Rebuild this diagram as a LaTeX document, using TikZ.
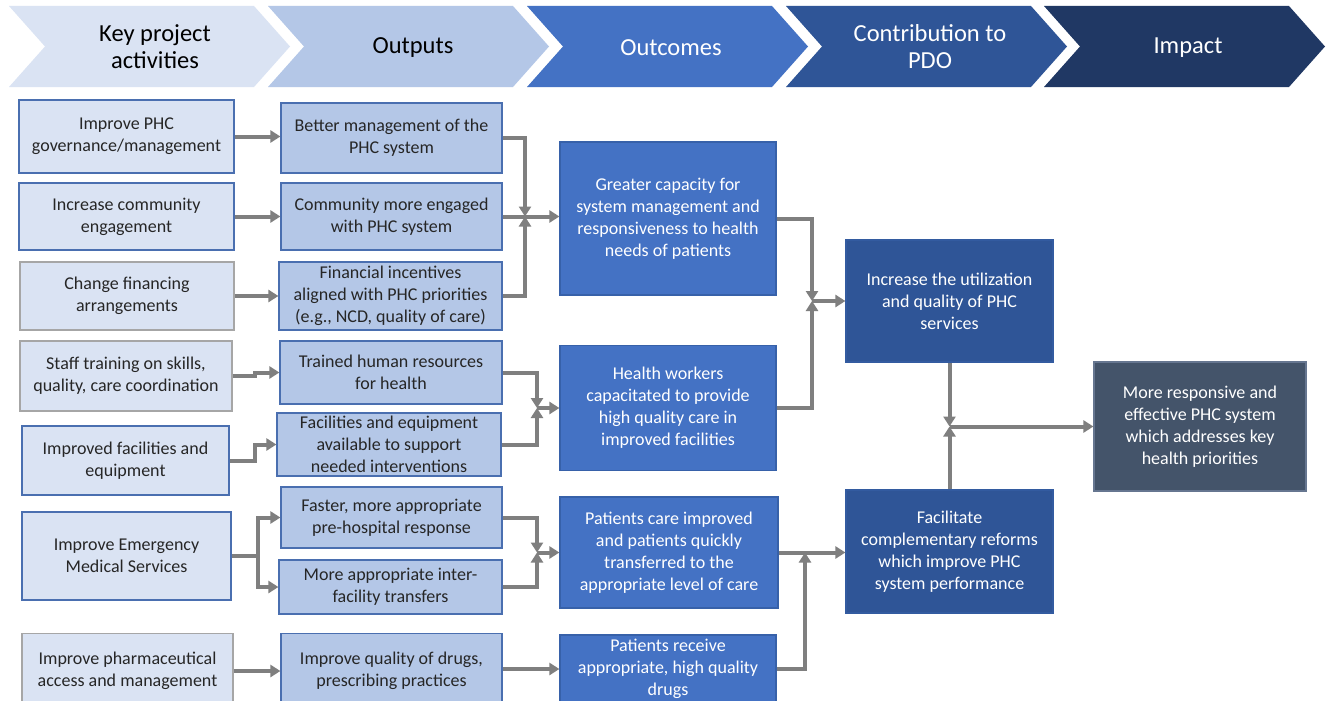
\documentclass[tikz,border=0pt]{standalone}
\usepackage{fontspec}
\setmainfont{Carlito}
\usetikzlibrary{arrows.meta}
\definecolor{chA}{HTML}{DAE3F3}
\definecolor{chB}{HTML}{B4C7E7}
\definecolor{chC}{HTML}{4472C4}
\definecolor{chD}{HTML}{2F5597}
\definecolor{chE}{HTML}{203864}
\definecolor{impc}{HTML}{44546A}
\definecolor{linec}{HTML}{7F7F7F}
\definecolor{edgeb}{HTML}{4A6FB0}
\definecolor{edgeg}{HTML}{A6A6A6}
\definecolor{txt}{HTML}{262626}
\tikzset{
  box/.style={rectangle, align=center, inner sep=0pt, font=\fontsize{18}{22}\selectfont, line width=1.2pt},
  actb/.style={box, fill=chA, draw=edgeb, text=txt},
  actg/.style={box, fill=chA, draw=edgeg, text=txt},
  outb/.style={box, fill=chB, draw=edgeb, text=txt},
  outc/.style={box, fill=chC, draw=chD!60!chC, text=white},
  pdo/.style={box, fill=chD, draw=chD!80!chC, text=white},
  imp/.style={box, fill=impc, draw=impc!70!chB, text=white},
  head/.style={align=center, font=\fontsize{24.5}{27}\selectfont},
  arr/.style={draw=linec, line width=4pt, -{Triangle[length=10pt,width=12pt]}},
  ln/.style={draw=linec, line width=4pt}
}
\begin{document}
\begin{tikzpicture}[x=1pt,y=-1pt]
\useasboundingbox[fill=white] (0,0) rectangle (1328,701);
% header chevrons
\foreach \xo/\col in {9/chA,268/chB,527/chC,786/chD,1044/chE}{
  \fill[\col] (\xo,6) -- (\xo+245,6) -- (\xo+281,46.5) -- (\xo+245,87) -- (\xo,87) -- (\xo+36,46.5) -- cycle;
}
\node[head, text=black] (h1) at (155,46.5) {Key project\\activities};
\node[head, text=black] (h2) at (413,48) {Outputs};
\node[head, text=white] (h3) at (671,48) {Outcomes};
\node[head, text=white] (h4) at (930,46.5) {Contribution to\\PDO};
\node[head, text=white] (h5) at (1188,48) {Impact};

% activities
\node[actb, minimum width=215, minimum height=73] (A1) at (126.5,136.5) {Improve PHC\\governance/management};
\node[actb, minimum width=215, minimum height=67] (A2) at (126.5,216.5) {Increase community\\engagement};
\node[actg, minimum width=214, minimum height=68] (A3) at (127,296) {Change financing\\arrangements};
\node[actg, minimum width=212, minimum height=70] (A4) at (126,376) {Staff training on skills,\\quality, care coordination};
\node[actb, minimum width=207, minimum height=69] (A5) at (125.5,460.5) {Improved facilities and\\equipment};
\node[actb, minimum width=209, minimum height=88] (A6) at (126.5,556) {Improve Emergency\\Medical Services};
\node[actg, minimum width=211, minimum height=75] (A7) at (127.5,671) {Improve pharmaceutical\\access and management};

% outputs
\node[outb, minimum width=221, minimum height=70] (O1) at (391.5,138) {Better management of the\\PHC system};
\node[outb, minimum width=221, minimum height=67] (O2) at (391.5,216.5) {Community more engaged\\with PHC system};
\node[outb, minimum width=223, minimum height=68] (O3) at (390.5,296) {Financial incentives\\aligned with PHC priorities\\(e.g., NCD, quality of care)};
\node[outb, minimum width=222, minimum height=63] (O4) at (391,372.5) {Trained human resources\\for health};
\node[outb, minimum width=224, minimum height=63] (O5) at (389,444.5) {Facilities and equipment\\available to support\\needed interventions};
\node[outb, minimum width=221, minimum height=61] (O6) at (391.5,517.5) {Faster, more appropriate\\pre-hospital response};
\node[outb, minimum width=223, minimum height=54] (O7) at (390.5,587) {More appropriate inter-\\facility transfers};
\node[outb, minimum width=221, minimum height=75] (O8) at (391.5,671) {Improve quality of drugs,\\prescribing practices};

% outcomes
\node[outc, minimum width=216, minimum height=153] (C1) at (668,218.5) {Greater capacity for\\system management and\\responsiveness to health\\needs of patients};
\node[outc, minimum width=216, minimum height=125] (C2) at (668,408) {Health workers\\capacitated to provide\\high quality care in\\improved facilities};
\node[outc, minimum width=218, minimum height=111] (C3) at (669,552.5) {Patients care improved\\and patients quickly\\transferred to the\\appropriate level of care};
\node[outc, minimum width=216, minimum height=68] (C4) at (668,669) {Patients receive\\appropriate, high quality\\drugs};

% PDO
\node[pdo, minimum width=207, minimum height=122] (P1) at (949.5,301) {Increase the utilization\\and quality of PHC\\services};
\node[pdo, minimum width=207, minimum height=123] (P2) at (949.5,551.5) {Facilitate\\complementary reforms\\which improve PHC\\system performance};

% impact
\node[imp, minimum width=212, minimum height=129] (I1) at (1200,426.5) {More responsive and\\effective PHC system\\which addresses key\\health priorities};

% junction coordinates
\coordinate (k4) at (255,376);
\coordinate (k5) at (255,460.5);
\coordinate (k6) at (258,556);
\coordinate (J1) at (525,216.5);
\coordinate (J2) at (537,408);
\coordinate (J3) at (537,552.5);
\coordinate (J4) at (812,301);
\coordinate (J5) at (949.5,426.5);
\coordinate (k8) at (805,552.5);

% activities -> outputs
\draw[arr] (A1.east) -- (A1.east -| O1.west);
\draw[arr] (A2.east) -- (A2.east -| O2.west);
\draw[arr] (A3.east) -- (A3.east -| O3.west);
\draw[arr] (A4.east) -- (k4) |- (O4.west);
\draw[arr] (A5.east) -- (k5) |- (O5.west);
\draw[ln] (A6.east) -- (k6);
\draw[arr] (k6) |- (O6.west);
\draw[arr] (k6) |- (O7.west);
\draw[arr] (A7.east |- O8.west) -- (O8.west);

% outputs -> outcomes
\draw[arr] (O1.east) -| (J1);
\draw[arr] (O3.east) -| (J1);
\draw[arr] (O2.east) -- (O2.east -| C1.west);
\draw[arr] (O4.east) -| (J2);
\draw[arr] (O5.east) -| (J2);
\draw[arr] (J2) -- (J2 -| C2.west);
\draw[arr] (O6.east) -| (J3);
\draw[arr] (O7.east) -| (J3);
\draw[arr] (J3) -- (J3 -| C3.west);
\draw[arr] (O8.east |- C4.west) -- (C4.west);

% outcomes -> PDO
\draw[arr] (C1.east) -| (J4);
\draw[arr] (C2.east) -| (J4);
\draw[arr] (J4) -- (J4 -| P1.west);
\draw[arr] (C3.east |- k8) -- (P2.west |- k8);
\draw[arr] (C4.east) -| (k8);

% PDO -> impact
\draw[arr] (P1.south) -- (J5);
\draw[arr] (P2.north) -- (J5);
\draw[arr] (J5) -- (I1.west);
\end{tikzpicture}
\end{document}
